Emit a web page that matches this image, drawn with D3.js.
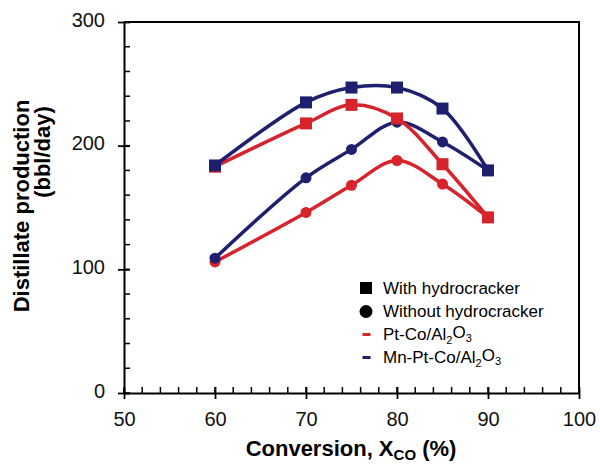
<!DOCTYPE html>
<html>
<head>
<meta charset="utf-8">
<script src="https://cdn.jsdelivr.net/npm/d3@7"></script>
<style>
  body { margin: 0; background: #fff; }
  text { font-family: "Liberation Sans", Arial, sans-serif; }
</style>
</head>
<body>
<div id="chart"></div>
<script>
// conversion values (%)
const conversion = [60, 70, 75, 80, 85, 90];

// distillate production (bbl/day)
const mnWith = [184, 235, 247, 247, 230, 180];
const ptWith = [183, 218, 233, 222, 185, 142];
const mnWithout = [109, 174, 197, 219, 203, 180];
const ptWithout = [106, 146, 168, 188, 169, 142];

const xTicks = [50, 60, 70, 80, 90, 100];
const yTicks = [0, 100, 200, 300];

const navy = "#1e1f6e", red = "#d6232c";

const series = [
    {vals: ptWithout, color: red, shape: "circle"},
    {vals: mnWithout, color: navy, shape: "circle"},
    {vals: ptWith, color: red, shape: "square"},
    {vals: mnWith, color: navy, shape: "square"}
];

const W = 600, H = 466;
const margin = {top: 22, right: 21, bottom: 73, left: 124};

const svg = d3.select("#chart").append("svg")
    .attr("width", W).attr("height", H);

const x = d3.scaleLinear().domain([50, 100]).range([margin.left, W - margin.right]);
const y = d3.scaleLinear().domain([0, 300]).range([H - margin.bottom, margin.top]);

// frame (top + right)
svg.append("path")
    .attr("d", `M${x(50)},${y(300)}H${x(100)}V${y(0)}`)
    .attr("fill", "none").attr("stroke", "#000").attr("stroke-width", 2);

// minor ticks, inward
d3.range(50, 101, 2).forEach(v => {
    svg.append("line").attr("x1", x(v)).attr("x2", x(v))
        .attr("y1", y(0)).attr("y2", y(0) - 6)
        .attr("stroke", "#000").attr("stroke-width", 1.5);
});
d3.range(0, 301, 20).forEach(v => {
    svg.append("line").attr("x1", x(50)).attr("x2", x(50) + 6)
        .attr("y1", y(v)).attr("y2", y(v))
        .attr("stroke", "#000").attr("stroke-width", 1.5);
});

// axes
const xAxis = svg.append("g")
    .attr("transform", `translate(0,${y(0)})`)
    .call(d3.axisBottom(x).tickValues(xTicks).tickSize(6).tickSizeOuter(0));
const yAxis = svg.append("g")
    .attr("transform", `translate(${x(50)},0)`)
    .call(d3.axisLeft(y).tickValues(yTicks).tickSize(6).tickSizeOuter(0));

[xAxis, yAxis].forEach(a => {
    a.select(".domain").attr("stroke-width", 2);
    a.selectAll(".tick line").attr("stroke-width", 1.8);
    a.selectAll("text").attr("font-size", 20).attr("fill", "#111");
});
xAxis.selectAll(".tick line").attr("y1", -6);
yAxis.selectAll(".tick line").attr("x1", 6);
xAxis.selectAll("text").attr("y", 33).attr("dy", null);
yAxis.selectAll("text").attr("x", -19).attr("dy", "0.2em");

// lines
const line = d3.line()
    .x((d, i) => x(conversion[i]))
    .y(d => y(d))
    .curve(d3.curveCatmullRom.alpha(0.5));

series.forEach(s => {
    svg.append("path")
        .attr("d", line(s.vals))
        .attr("fill", "none")
        .attr("stroke", s.color)
        .attr("stroke-width", 3.5);
});

series.forEach(s => {
    const g = svg.append("g").attr("fill", s.color);
    s.vals.forEach((v, i) => {
        if (s.shape === "square") {
            g.append("rect")
                .attr("x", x(conversion[i]) - 6).attr("y", y(v) - 6)
                .attr("width", 12).attr("height", 12);
        } else {
            g.append("circle")
                .attr("cx", x(conversion[i])).attr("cy", y(v)).attr("r", 5.5);
        }
    });
});

// legend
const leg = svg.append("g").attr("transform", "translate(366,288)");
const legText = 383 - 366;
const legSize = 17;
leg.append("rect").attr("x", -6).attr("y", -6).attr("width", 12).attr("height", 12).attr("fill", "#000");
leg.append("text").attr("x", legText).attr("y", 0).attr("dy", "0.35em").attr("font-size", legSize).text("With hydrocracker");
leg.append("circle").attr("cx", 0).attr("cy", 23.5).attr("r", 6.5).attr("fill", "#000");
leg.append("text").attr("x", legText).attr("y", 23.5).attr("dy", "0.35em").attr("font-size", legSize).text("Without hydrocracker");

const catalysts = [
    {color: red, parts: ["Pt-Co/Al", "2", "O", "3"]},
    {color: navy, parts: ["Mn-Pt-Co/Al", "2", "O", "3"]}
];
catalysts.forEach((c, k) => {
    const yy = 46.5 + k * 23;
    leg.append("line").attr("x1", -3.5).attr("x2", 4.5).attr("y1", yy).attr("y2", yy)
        .attr("stroke", c.color).attr("stroke-width", 3);
    const t = leg.append("text").attr("x", legText).attr("y", yy).attr("dy", "0.35em").attr("font-size", legSize);
    c.parts.forEach((p, j) => {
        const sub = j % 2 === 1;
        t.append("tspan")
            .attr("font-size", sub ? 11 : legSize)
            .attr("dy", j === 0 ? null : (sub ? "0.35em" : "-0.35em"))
            .text(p);
    });
});

// axis titles
const xt = svg.append("text")
    .attr("x", 351).attr("y", 456)
    .attr("text-anchor", "middle")
    .attr("font-size", 22).attr("font-weight", "bold");
xt.append("tspan").text("Conversion, X");
xt.append("tspan").attr("font-size", 15).attr("dy", 4).text("CO");
xt.append("tspan").attr("dy", -4).text(" (%)");

svg.append("text")
    .attr("transform", "translate(29,206) rotate(-90)")
    .attr("text-anchor", "middle")
    .attr("font-size", 22).attr("font-weight", "bold")
    .text("Distillate production");
svg.append("text")
    .attr("transform", "translate(50,152) rotate(-90)")
    .attr("text-anchor", "middle")
    .attr("font-size", 22).attr("font-weight", "bold")
    .text("(bbl/day)");
</script>
</body>
</html>
